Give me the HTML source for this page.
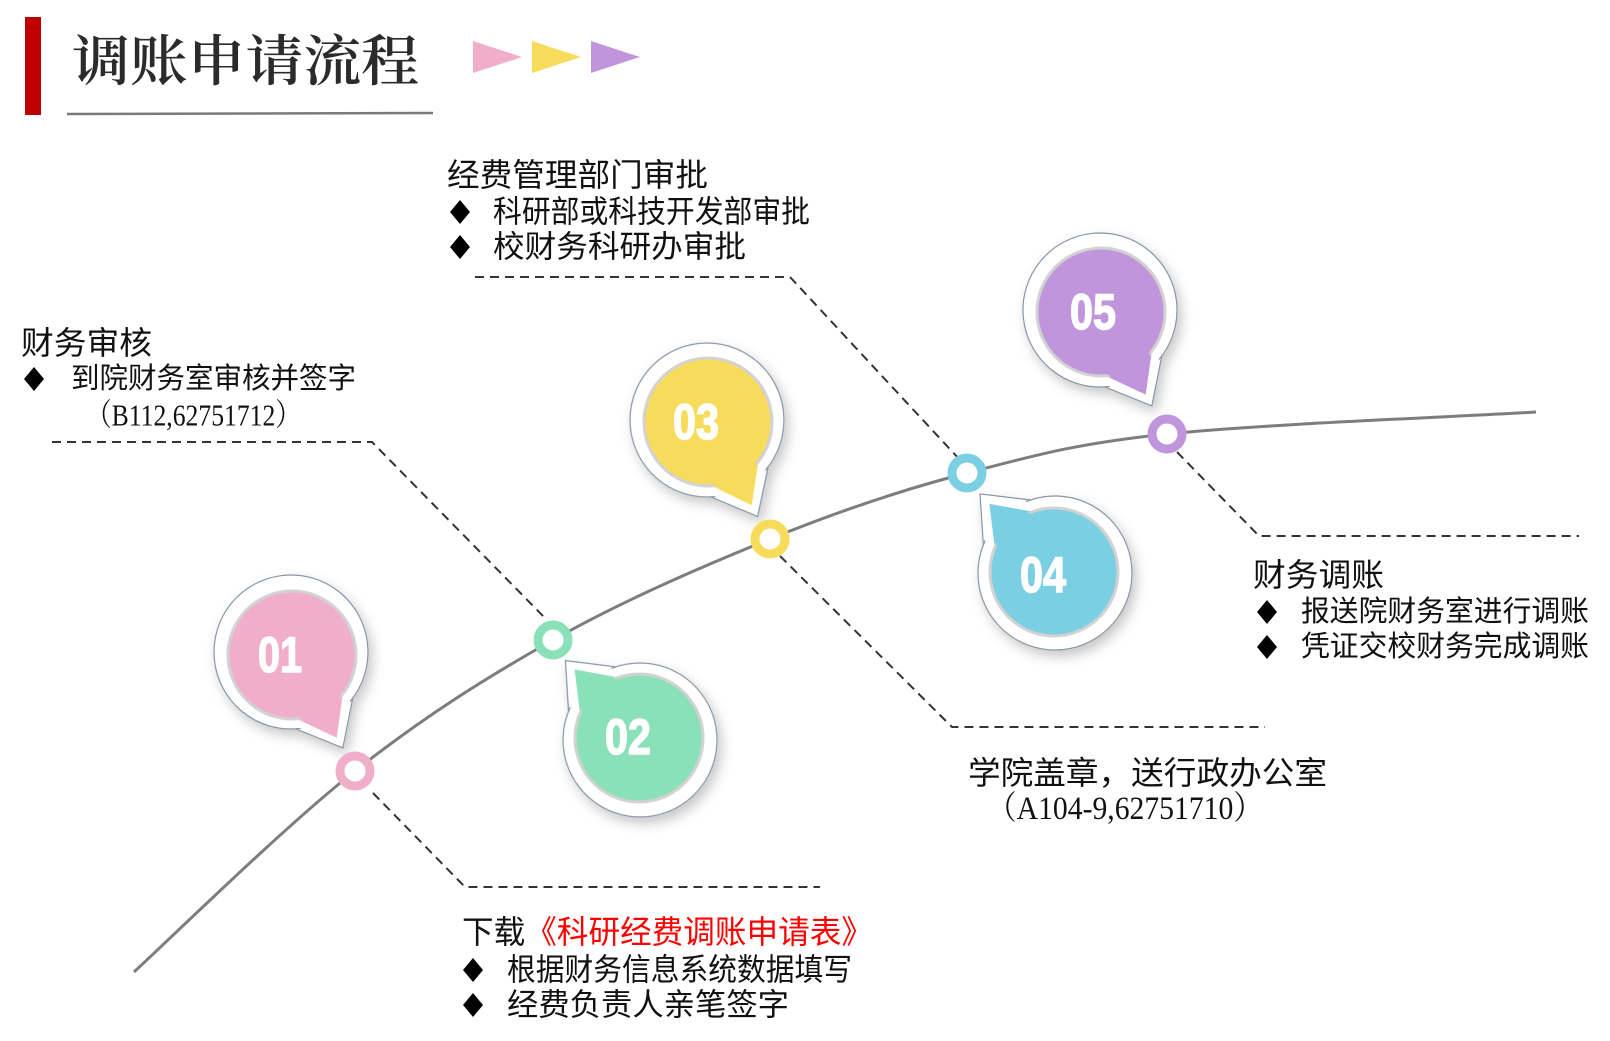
<!DOCTYPE html>
<html><head><meta charset="utf-8"><style>
html,body{margin:0;padding:0;background:#fff;}
svg{display:block;}
.s{font-family:"Liberation Sans","Noto Sans CJK SC",sans-serif;fill:#111;}
.r{font-family:"Liberation Serif","Noto Serif CJK SC",serif;fill:#111;}
.n{font-family:"Liberation Sans",sans-serif;font-weight:bold;fill:#fff;stroke:#fff;stroke-width:1.5;}
</style></head><body>
<svg width="1610" height="1041" viewBox="0 0 1610 1041" xmlns="http://www.w3.org/2000/svg">
<defs>
<filter id="sh" x="-30%" y="-30%" width="160%" height="160%">
<feDropShadow dx="4" dy="6" stdDeviation="6" flood-color="#000" flood-opacity="0.22"/>
</filter>
<g id="outer">
<polygon points="69.8,-32.5 109,0 69.8,32.5" fill="#fff" stroke="#8a94a6" stroke-width="1.2"/>
<circle r="77" fill="#fff" stroke="#8a94a6" stroke-width="1.2"/>
<polygon points="68,-31 107,0 68,31" fill="#fff"/>
</g>
</defs>

<rect x="25" y="17" width="16" height="98" fill="#c00000"/>
<text x="72" y="57" font-size="55" dominant-baseline="central" textLength="347" lengthAdjust="spacingAndGlyphs" style="font-family:'Noto Serif CJK SC',serif;font-weight:600;fill:#2b2b2b">调账申请流程</text>
<line x1="67" y1="114" x2="433" y2="113" stroke="#7a7a7a" stroke-width="2.5"/>
<polygon points="473,41 522,57 473,73" fill="#f0aecb"/>
<polygon points="532,41 581,57 532,73" fill="#f7dc5c"/>
<polygon points="591,41 640,57 591,73" fill="#c095db"/>

<path d="M134,972 C171,938 285,826 355,771 C425,716 484,679 553,640 C622,601 701,567 770,539 C839,511 901,490 967,473 C1033,456 1072,444 1167,434 C1262,424 1475,416 1536,412" fill="none" stroke="#7d7d7d" stroke-width="3"/>

<g fill="none" stroke="#333" stroke-width="2" stroke-dasharray="9,6">
<polyline points="52,442 372,442 544,617"/>
<polyline points="373,793 465,887 820,887"/>
<polyline points="475,277 790,277 960,460"/>
<polyline points="780,556 952,727 1265,727"/>
<polyline points="1177,452 1259,536 1579,536"/>
</g>

<g filter="url(#sh)">
<g transform="translate(291,652) rotate(61.6)"><use href="#outer"/></g>
<g transform="translate(640,740) rotate(-133.2)"><use href="#outer"/></g>
<g transform="translate(707,420) rotate(62.3)"><use href="#outer"/></g>
<g transform="translate(1055,573) rotate(-133.5)"><use href="#outer"/></g>
<g transform="translate(1100,310) rotate(61.6)"><use href="#outer"/></g>
</g>
<g transform="translate(292,655) rotate(61.6)"><polygon points="56,-28 94,0 56,28" fill="#f0aecb"/><circle r="64" fill="#f0aecb" stroke="#d2d2d2" stroke-width="3"/><polygon points="55,-26 93,0 55,26" fill="#f0aecb"/></g>
<g transform="translate(639,738) rotate(-133.2)"><polygon points="56,-28 94,0 56,28" fill="#8ae0b8"/><circle r="64" fill="#8ae0b8" stroke="#d2d2d2" stroke-width="3"/><polygon points="55,-26 93,0 55,26" fill="#8ae0b8"/></g>
<g transform="translate(708,422) rotate(62.3)"><polygon points="56,-28 94,0 56,28" fill="#f7dc5c"/><circle r="64" fill="#f7dc5c" stroke="#d2d2d2" stroke-width="3"/><polygon points="55,-26 93,0 55,26" fill="#f7dc5c"/></g>
<g transform="translate(1054,572) rotate(-133.5)"><polygon points="56,-28 94,0 56,28" fill="#7acfe3"/><circle r="64" fill="#7acfe3" stroke="#d2d2d2" stroke-width="3"/><polygon points="55,-26 93,0 55,26" fill="#7acfe3"/></g>
<g transform="translate(1101,312) rotate(61.6)"><polygon points="56,-28 94,0 56,28" fill="#c095db"/><circle r="64" fill="#c095db" stroke="#d2d2d2" stroke-width="3"/><polygon points="55,-26 93,0 55,26" fill="#c095db"/></g>

<g class="n" font-size="50" text-anchor="middle" dominant-baseline="central">
<text x="280" y="655" textLength="44" lengthAdjust="spacingAndGlyphs">01</text>
<text x="628" y="737" textLength="46" lengthAdjust="spacingAndGlyphs">02</text>
<text x="696" y="422" textLength="46" lengthAdjust="spacingAndGlyphs">03</text>
<text x="1043" y="575" textLength="46" lengthAdjust="spacingAndGlyphs">04</text>
<text x="1093" y="312" textLength="46" lengthAdjust="spacingAndGlyphs">05</text>
</g>

<g fill="#fff" stroke-width="9">
<circle cx="355" cy="771" r="15" stroke="#f0aecb"/>
<circle cx="553" cy="640" r="15" stroke="#8ae0b8"/>
<circle cx="770" cy="539" r="15" stroke="#f7dc5c"/>
<circle cx="967" cy="473" r="15" stroke="#7acfe3"/>
<circle cx="1167" cy="434" r="15" stroke="#c095db"/>
</g>

<g fill="#000">
<polygon points="34,367 44,379 34,391 24,379"/>
<polygon points="460,200 470,212 460,224 450,212"/>
<polygon points="460,235 470,247 460,259 450,247"/>
<polygon points="473,958 483,970 473,982 463,970"/>
<polygon points="473,993 483,1005 473,1017 463,1005"/>
<polygon points="1267,600 1277,612 1267,624 1257,612"/>
<polygon points="1267,635 1277,647 1267,659 1257,647"/>
</g>

<g dominant-baseline="central">
<text class="s" x="21" y="343" font-size="32" textLength="131" lengthAdjust="spacingAndGlyphs">财务审核</text>
<text class="s" x="71" y="379" font-size="29" textLength="285" lengthAdjust="spacingAndGlyphs">到院财务室审核并签字</text>
<text class="r" x="86" y="415" font-size="31" textLength="215" lengthAdjust="spacingAndGlyphs">（B112,62751712）</text>

<text class="s" x="447" y="175" font-size="32" textLength="261" lengthAdjust="spacingAndGlyphs">经费管理部门审批</text>
<text class="s" x="493" y="212" font-size="31" textLength="317" lengthAdjust="spacingAndGlyphs">科研部或科技开发部审批</text>
<text class="s" x="493" y="247" font-size="31" textLength="253" lengthAdjust="spacingAndGlyphs">校财务科研办审批</text>

<text class="s" x="462" y="932" font-size="32" textLength="411" lengthAdjust="spacingAndGlyphs">下载<tspan fill="#ff0000">《科研经费调账申请表》</tspan></text>
<text class="s" x="507" y="970" font-size="31" textLength="345" lengthAdjust="spacingAndGlyphs">根据财务信息系统数据填写</text>
<text class="s" x="507" y="1005" font-size="31" textLength="282" lengthAdjust="spacingAndGlyphs">经费负责人亲笔签字</text>

<text class="s" x="968" y="773" font-size="32" textLength="359" lengthAdjust="spacingAndGlyphs">学院盖章，送行政办公室</text>
<text class="r" x="987" y="809" font-size="33" textLength="276" lengthAdjust="spacingAndGlyphs">（A104-9,62751710）</text>

<text class="s" x="1253" y="575" font-size="32" textLength="131" lengthAdjust="spacingAndGlyphs">财务调账</text>
<text class="s" x="1301" y="612" font-size="29" textLength="288" lengthAdjust="spacingAndGlyphs">报送院财务室进行调账</text>
<text class="s" x="1301" y="647" font-size="29" textLength="288" lengthAdjust="spacingAndGlyphs">凭证交校财务完成调账</text>
</g>
</svg>
</body></html>
